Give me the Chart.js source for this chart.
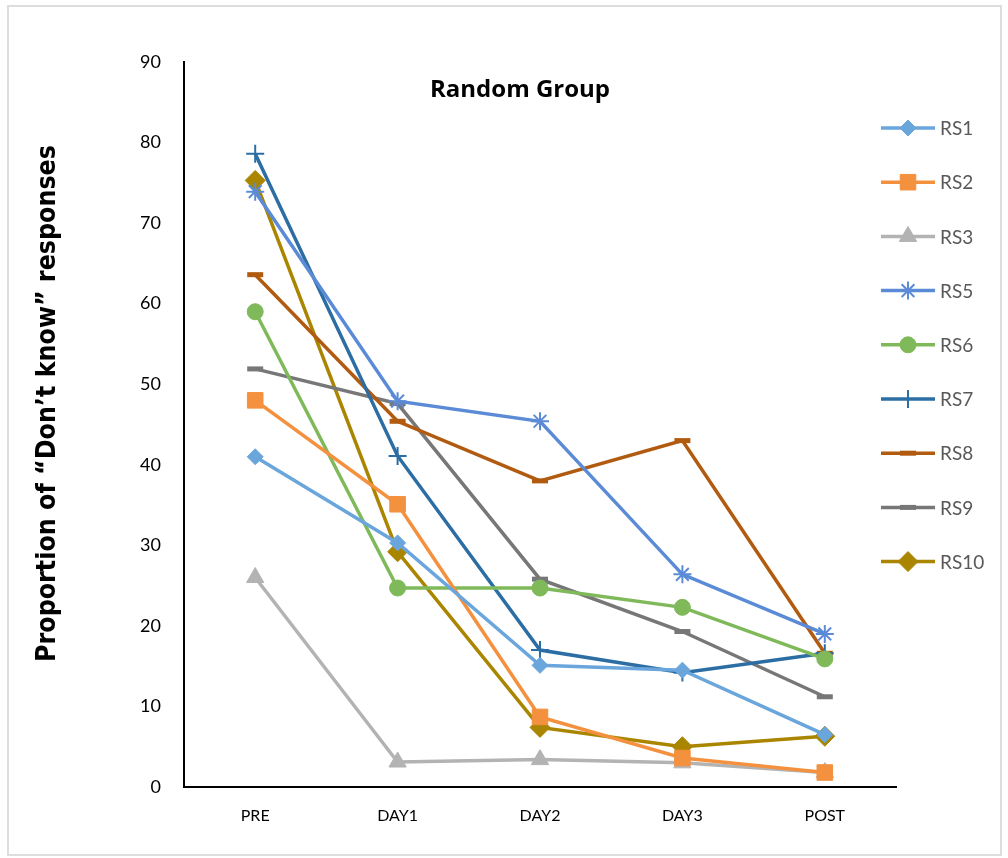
<!DOCTYPE html>
<html>
<head>
<meta charset="utf-8">
<title>Random Group</title>
<script src="https://cdn.jsdelivr.net/npm/chart.js@4/dist/chart.umd.min.js"></script>
<style>
  html, body { margin: 0; padding: 0; background: #ffffff; }
  #wrap { position: relative; width: 1008px; height: 858px; }
  #frame {
    position: absolute; left: 7px; top: 5px; width: 995px; height: 851px;
    border: 2px solid #dddddd; box-sizing: border-box; pointer-events: none;
  }
  canvas { display: block; }
</style>
</head>
<body>
<div id="wrap">
  <canvas id="chart" width="1008" height="858"></canvas>
  <div id="frame"></div>
</div>
<script>
// Sessions on the x axis
const categories = ['PRE', 'DAY1', 'DAY2', 'DAY3', 'POST'];

// Proportion of "Don't know" responses per participant
const rs1  = [41.0, 30.3, 15.1, 14.5, 6.5];
const rs2  = [48.0, 35.1, 8.7, 3.6, 1.8];
const rs3  = [26.0, 3.1, 3.4, 3.0, 1.8];
const rs5  = [73.9, 47.9, 45.4, 26.4, 19.0];
const rs6  = [59.0, 24.7, 24.7, 22.3, 15.9];
const rs7  = [78.6, 41.1, 17.0, 14.2, 16.6];
const rs8  = [63.6, 45.4, 38.0, 43.0, 16.6];
const rs9  = [51.9, 47.6, 25.8, 19.3, 11.2];
const rs10 = [75.3, 29.2, 7.4, 5.0, 6.3];

const seriesNames = ['RS1', 'RS2', 'RS3', 'RS5', 'RS6', 'RS7', 'RS8', 'RS9', 'RS10'];
const seriesData  = [rs1, rs2, rs3, rs5, rs6, rs7, rs8, rs9, rs10];

const yTicks = [0, 10, 20, 30, 40, 50, 60, 70, 80, 90];

const chartTitle = 'Random Group';
const yAxisTitle = 'Proportion of \u201cDon\u2019t know\u201d responses';

// Per-series appearance
const styles = [
  { color: '#6AA6DC', point: 'rectRot',  radius: 8,  bw: 1 },
  { color: '#F3913F', point: 'rect',     radius: 11, bw: 1 },
  { color: '#B3B3B3', point: 'triangle', radius: 10, bw: 1 },
  { color: '#5B8BD6', point: 'star',     radius: 9,  bw: 2 },
  { color: '#7FB95A', point: 'circle',   radius: 8,  bw: 1 },
  { color: '#2C6EA3', point: 'cross',    radius: 9,  bw: 2 },
  { color: '#B15B10', point: 'line',     radius: 8,  bw: 5 },
  { color: '#777777', point: 'line',     radius: 8,  bw: 5 },
  { color: '#A98500', point: 'rectRot',  radius: 10, bw: 1 }
];

const datasets = seriesNames.map((name, i) => ({
  label: name,
  data: seriesData[i],
  borderColor: styles[i].color,
  backgroundColor: styles[i].color,
  borderWidth: 3.5,
  tension: 0,
  pointStyle: styles[i].point,
  pointRadius: styles[i].radius,
  pointHoverRadius: styles[i].radius,
  pointBorderWidth: styles[i].bw,
  pointBackgroundColor: styles[i].color,
  pointBorderColor: styles[i].color
}));

const tickFont = "Lato, 'Open Sans', sans-serif";

// Title inside the plot, rotated y title and a right-hand legend with line samples
const decorations = {
  id: 'decorations',
  afterDraw(chart) {
    const ctx = chart.ctx;
    const area = chart.chartArea;
    ctx.save();

    // Chart title
    ctx.fillStyle = '#000000';
    ctx.font = "bold 24px 'Open Sans', 'Liberation Sans', sans-serif";
    ctx.textAlign = 'center';
    ctx.textBaseline = 'middle';
    ctx.fillText(chartTitle, (area.left + area.right) / 2 - 20, area.top + 28);

    // Y axis title
    ctx.save();
    ctx.translate(area.left - 136, (area.top + area.bottom) / 2 - 21);
    ctx.rotate(-Math.PI / 2);
    ctx.font = "bold 26.5px 'Liberation Sans Narrow', 'DejaVu Sans Condensed', sans-serif";
    ctx.fillStyle = '#000000';
    ctx.textAlign = 'center';
    ctx.textBaseline = 'middle';
    ctx.fillText(yAxisTitle, 0, 0);
    ctx.restore();

    // Legend
    const x0 = area.right - 15;
    const lineLen = 54;
    const top = area.top + 66;
    const step = 54.2;
    chart.data.datasets.forEach((ds, i) => {
      const y = top + i * step;
      ctx.strokeStyle = ds.borderColor;
      ctx.lineWidth = 3.5;
      ctx.beginPath();
      ctx.moveTo(x0, y);
      ctx.lineTo(x0 + lineLen, y);
      ctx.stroke();
      ctx.fillStyle = ds.pointBackgroundColor;
      ctx.strokeStyle = ds.pointBorderColor;
      ctx.lineWidth = ds.pointBorderWidth;
      Chart.helpers.drawPoint(ctx, {
        pointStyle: ds.pointStyle,
        radius: ds.pointRadius,
        rotation: 0,
        borderWidth: ds.pointBorderWidth
      }, x0 + lineLen / 2, y);
      ctx.fillStyle = '#595959';
      ctx.font = "19px " + tickFont;
      ctx.textAlign = 'left';
      ctx.textBaseline = 'middle';
      ctx.fillText(ds.label, x0 + lineLen + 5, y + 1);
    });

    ctx.restore();
  }
};

new Chart(document.getElementById('chart'), {
  type: 'line',
  data: { labels: categories, datasets },
  options: {
    responsive: false,
    animation: false,
    layout: { padding: { top: 62, right: 112, bottom: 0, left: 0 } },
    plugins: {
      legend: { display: false },
      title: { display: false },
      tooltip: { enabled: false }
    },
    scales: {
      x: {
        offset: true,
        grid: { display: false, drawTicks: false },
        border: { display: true, color: '#000000', width: 2 },
        ticks: { color: '#000000', font: { family: tickFont, size: 16 }, padding: 19 },
        afterFit(scale) { scale.height = 71; }
      },
      y: {
        min: 0,
        max: 90,
        afterBuildTicks(scale) { scale.ticks = yTicks.map(v => ({ value: v })); },
        grid: { display: false, drawTicks: false },
        border: { display: true, color: '#000000', width: 2 },
        ticks: { color: '#000000', font: { family: tickFont, size: 18 }, padding: 23 },
        afterFit(scale) { scale.width = 184; }
      }
    }
  },
  plugins: [decorations]
});
</script>
</body>
</html>
